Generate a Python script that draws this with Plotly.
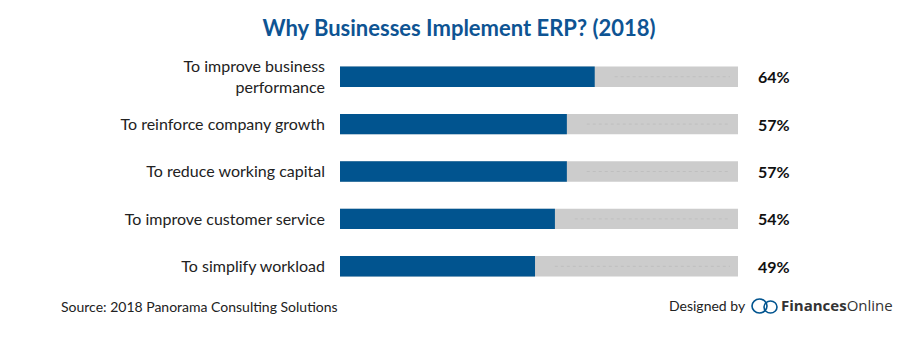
import plotly.graph_objects as go

categories = [
    "To improve business<br>performance",
    "To reinforce company growth",
    "To reduce working capital",
    "To improve customer service",
    "To simplify workload",
]
values = [64, 57, 57, 54, 49]
labels = ["64%", "57%", "57%", "54%", "49%"]
full = [100] * len(values)

BLUE = "#01548f"
GRAY = "#cccccc"
FONT = "Lato, 'Open Sans', sans-serif"

# plot area in pixels
L, R, T, B = 340, 738, 53, 290
W, H = 921, 341


def px(x):
    return (x - L) / (R - L)


def py(y):
    return (B - y) / (B - T)


fig = go.Figure()
fig.add_trace(go.Bar(
    y=categories, x=full, orientation="h", marker=dict(color=GRAY, line=dict(width=0)),
    width=0.43, hoverinfo="skip", showlegend=False,
))
fig.add_trace(go.Bar(
    y=categories, x=values, orientation="h", marker=dict(color=BLUE, line=dict(width=0)),
    width=0.43, showlegend=False,
))
for c, v in zip(categories, values):
    fig.add_trace(go.Scatter(
        x=[v + 5, 98], y=[c, c], mode="lines",
        line=dict(color="#bfbfbf", width=1, dash="dot"),
        hoverinfo="skip", showlegend=False,
    ))

annotations = []
for c, t in zip(categories, labels):
    annotations.append(dict(
        x=100, y=c, xref="x", yref="y", text=f"<b>{t}</b>", showarrow=False,
        xanchor="center", xshift=36, font=dict(family=FONT, size=16, color="#111111"),
    ))
annotations += [
    dict(x=px(59), y=py(306), xref="paper", yref="paper", xanchor="left", yanchor="middle",
         text="Source: 2018 Panorama Consulting Solutions", showarrow=False,
         font=dict(family=FONT, size=14, color="#222222")),
    dict(x=px(667), y=py(305), xref="paper", yref="paper", xanchor="left", yanchor="middle",
         text="Designed by", showarrow=False,
         font=dict(family=FONT, size=14, color="#222222")),
    dict(x=px(779), y=py(305), xref="paper", yref="paper", xanchor="left", yanchor="middle",
         text="<b>Finances</b>Online", showarrow=False,
         font=dict(family="'Open Sans', Lato, sans-serif", size=15, color="#333333")),
]

shapes = [
    dict(type="circle", xref="paper", yref="paper",
         x0=px(752), x1=px(767), y0=py(313), y1=py(299),
         line=dict(color=BLUE, width=1.6)),
    dict(type="circle", xref="paper", yref="paper",
         x0=px(764), x1=px(777), y0=py(313), y1=py(301),
         line=dict(color=BLUE, width=1.6)),
]

fig.update_layout(
    width=W, height=H,
    margin=dict(l=L, r=W - R, t=T, b=H - B),
    paper_bgcolor="white", plot_bgcolor="white",
    barmode="overlay",
    title=dict(
        text="<b>Why Businesses Implement ERP? (2018)</b>",
        x=459 / W, xanchor="center", xref="container", y=1 - 28 / H, yanchor="middle",
        font=dict(family=FONT, size=22, color="#0e5493"),
    ),
    xaxis=dict(range=[0, 100], visible=False, fixedrange=True),
    yaxis=dict(
        autorange="reversed", showgrid=False, zeroline=False, showline=False,
        ticks="", ticklabelstandoff=14,
        tickfont=dict(family=FONT, size=16, color="#222222"),
    ),
    font=dict(family=FONT),
    annotations=annotations,
    shapes=shapes,
)

fig.write_html("out.html")
